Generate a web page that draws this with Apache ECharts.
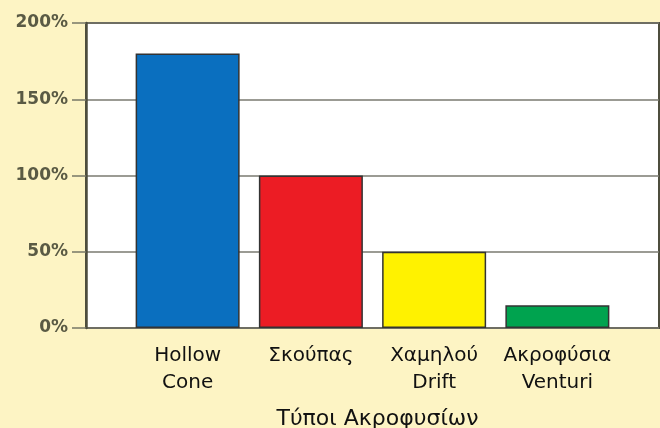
<!DOCTYPE html>
<html>
<head>
<meta charset="utf-8">
<script src="https://cdn.jsdelivr.net/npm/echarts@6/dist/echarts.min.js"></script>
<style>
  html, body { margin: 0; padding: 0; background: #fdf4c4; }
  #chart { width: 660px; height: 428px; }
</style>
</head>
<body>
<div id="chart"></div>
<script>
// nozzle types and relative drift
const categories = ["Hollow\nCone", "Σκούπας", "Χαμηλού\nDrift", "Ακροφύσια\nVenturi"];
const values = [180, 100, 50, 15];
const barColors = ["#0a6fbf", "#ec1c24", "#fff200", "#00a34f"];
const yMin = 0;
const yMax = 200;
const yStep = 50;
const xTitle = "Τύποι Ακροφυσίων";

const font = "DejaVu Sans";
const chart = echarts.init(document.getElementById("chart"));

const option = {
  backgroundColor: "#fdf4c4",
  animation: false,
  grid: [
    // frame, gridlines and y axis
    { left: 86, right: 1, top: 23, bottom: 100, outerBoundsMode: "none", show: true, backgroundColor: "#ffffff", borderColor: "#4e4e3e", borderWidth: 2 },
    // bars sit in their own narrower band
    { left: 126, right: 41, top: 23, bottom: 100, outerBoundsMode: "none" }
  ],
  xAxis: [
    { gridIndex: 0, type: "value", show: false, min: 0, max: 1 },
    {
      gridIndex: 1,
      type: "category",
      data: categories,
      axisLine: { show: false },
      axisTick: { show: false },
      axisLabel: {
        interval: 0,
        margin: 14,
        color: "#111111",
        fontFamily: font,
        fontSize: 20,
        lineHeight: 27
      },
      name: xTitle,
      nameLocation: "middle",
      nameGap: 80,
      nameTextStyle: {
        color: "#111111",
        fontFamily: font,
        fontSize: 22,
        verticalAlign: "top",
        padding: [0, 0, 0, 10]
      }
    }
  ],
  yAxis: [
    {
      gridIndex: 0,
      type: "value",
      min: yMin,
      max: yMax,
      interval: yStep,
      axisLine: { show: true, lineStyle: { color: "#4e4e3e", width: 2.5 } },
      axisTick: { show: true, inside: false, length: 14, lineStyle: { color: "#777766", width: 1.5 } },
      axisLabel: {
        margin: 18,
        formatter: "{value}%",
        color: "#5a5a44",
        fontFamily: font,
        fontWeight: "bold",
        fontSize: 17
      },
      splitLine: { show: true, lineStyle: { color: "#7a7a70", width: 1.5 } }
    },
    { gridIndex: 1, type: "value", min: yMin, max: yMax, show: false }
  ],
  series: [
    {
      type: "bar",
      xAxisIndex: 1,
      yAxisIndex: 1,
      barWidth: 104,
      data: values.map((v, i) => ({
        value: v,
        itemStyle: { color: barColors[i], borderColor: "#333333", borderWidth: 1.5 }
      }))
    }
  ]
};

chart.setOption(option);
</script>
</body>
</html>
